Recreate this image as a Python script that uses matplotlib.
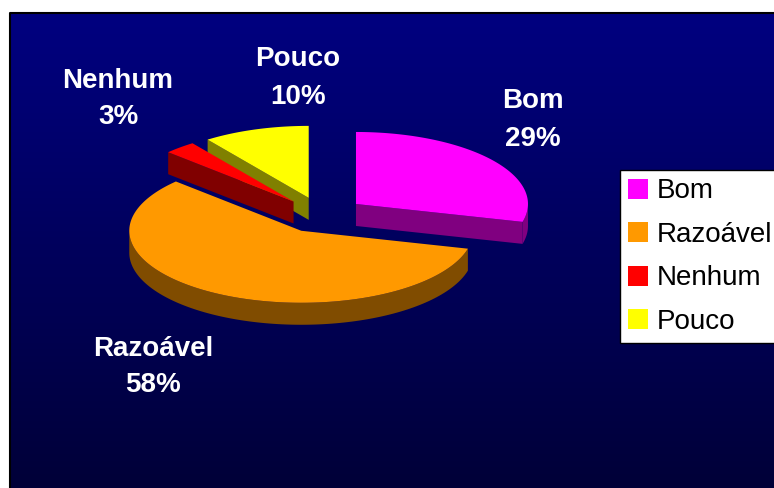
import numpy as np
import matplotlib
matplotlib.use("Agg")
import matplotlib.pyplot as plt
from matplotlib.patches import Polygon, Patch

# survey answers (percent)
labels = ["Bom", "Razoável", "Nenhum", "Pouco"]
values = [29, 58, 3, 10]
top_colors = ["#FF00FF", "#FF9900", "#FF0000", "#FFFF00"]
side_colors = ["#800080", "#804C00", "#800000", "#808000"]

W, H = 774, 488
fig = plt.figure(figsize=(W / 100, H / 100), dpi=100)
ax = fig.add_axes([0, 0, 1, 1])
ax.set_xlim(0, W)
ax.set_ylim(H, 0)
ax.axis("off")

# navy gradient panel
g = np.linspace(0, 1, 256)[:, None]
bg = np.zeros((256, 1, 3))
bg[..., 2] = (128 - 72 * g) / 255
ax.imshow(bg, extent=(10, W, H, 13), aspect="auto", zorder=0)
ax.plot([10, 10, W], [H, 13, 13], color="black", lw=1.5, zorder=1)

# pie geometry (pixels)
cx, cy = 322, 215
rx, ry = 172, 72
depth = 22
explode = 0.25


def ell(ox, oy, th):
    th = np.radians(th)
    return np.column_stack([ox + rx * np.cos(th), oy - ry * np.sin(th)])


total = float(sum(values))
slices = []
a = 90.0
for i, v in enumerate(values):
    a1 = a
    a2 = a - 360.0 * v / total
    mid = np.radians((a1 + a2) / 2)
    ox = cx + rx * explode * np.cos(mid)
    oy = cy - ry * explode * np.sin(mid)
    slices.append((i, a1, a2, ox, oy))
    a = a2

# back to front
for i, a1, a2, ox, oy in sorted(slices, key=lambda s: s[4]):
    apex = np.array([[ox, oy]])
    down = np.array([0, depth])
    walls = []
    # radial walls facing the viewer
    if np.cos(np.radians(a1)) < -1e-9:
        p = ell(ox, oy, [a1])
        walls.append(np.vstack([apex, p, p + down, apex + down]))
    if np.cos(np.radians(a2)) > 1e-9:
        p = ell(ox, oy, [a2])
        walls.append(np.vstack([apex, p, p + down, apex + down]))
    # outer rim, front half only
    for k in range(-2, 2):
        lo = max(a2, -180 + 360 * k)
        hi = min(a1, 360 * k)
        if lo < hi:
            arc = ell(ox, oy, np.linspace(hi, lo, 120))
            walls.append(np.vstack([arc, (arc + down)[::-1]]))
    for w in walls:
        ax.add_patch(Polygon(w, closed=True, facecolor=side_colors[i],
                             edgecolor="none", zorder=2))
    arc = ell(ox, oy, np.linspace(a1, a2, 240))
    ax.add_patch(Polygon(np.vstack([apex, arc]), closed=True,
                         facecolor=top_colors[i], edgecolor="none", zorder=2))

# data labels
label_xy = {"Bom": (533, 120), "Razoável": (153, 367),
            "Nenhum": (118, 99), "Pouco": (298, 78)}
for lab, v in zip(labels, values):
    x, y = label_xy[lab]
    ax.text(x, y, f"{lab}\n{v}%", color="white", fontsize=20,
            fontweight="bold", family="Liberation Sans", ha="center",
            va="center", linespacing=1.55, zorder=3)

handles = [Patch(facecolor=c, edgecolor="none") for c in top_colors]
leg = ax.legend(handles, labels, loc="upper left",
                bbox_to_anchor=(620 / W, 1 - 170 / H),
                bbox_transform=fig.transFigure,
                prop={"family": "Liberation Sans", "size": 20},
                frameon=True, fancybox=False, framealpha=1,
                edgecolor="black", borderaxespad=0, borderpad=0.3,
                handlelength=0.72, handleheight=0.72, handletextpad=0.32,
                labelspacing=0.63)
leg.get_frame().set_linewidth(1.0)
leg.set_zorder(4)

fig.savefig("out.png", dpi=100, facecolor="white")
